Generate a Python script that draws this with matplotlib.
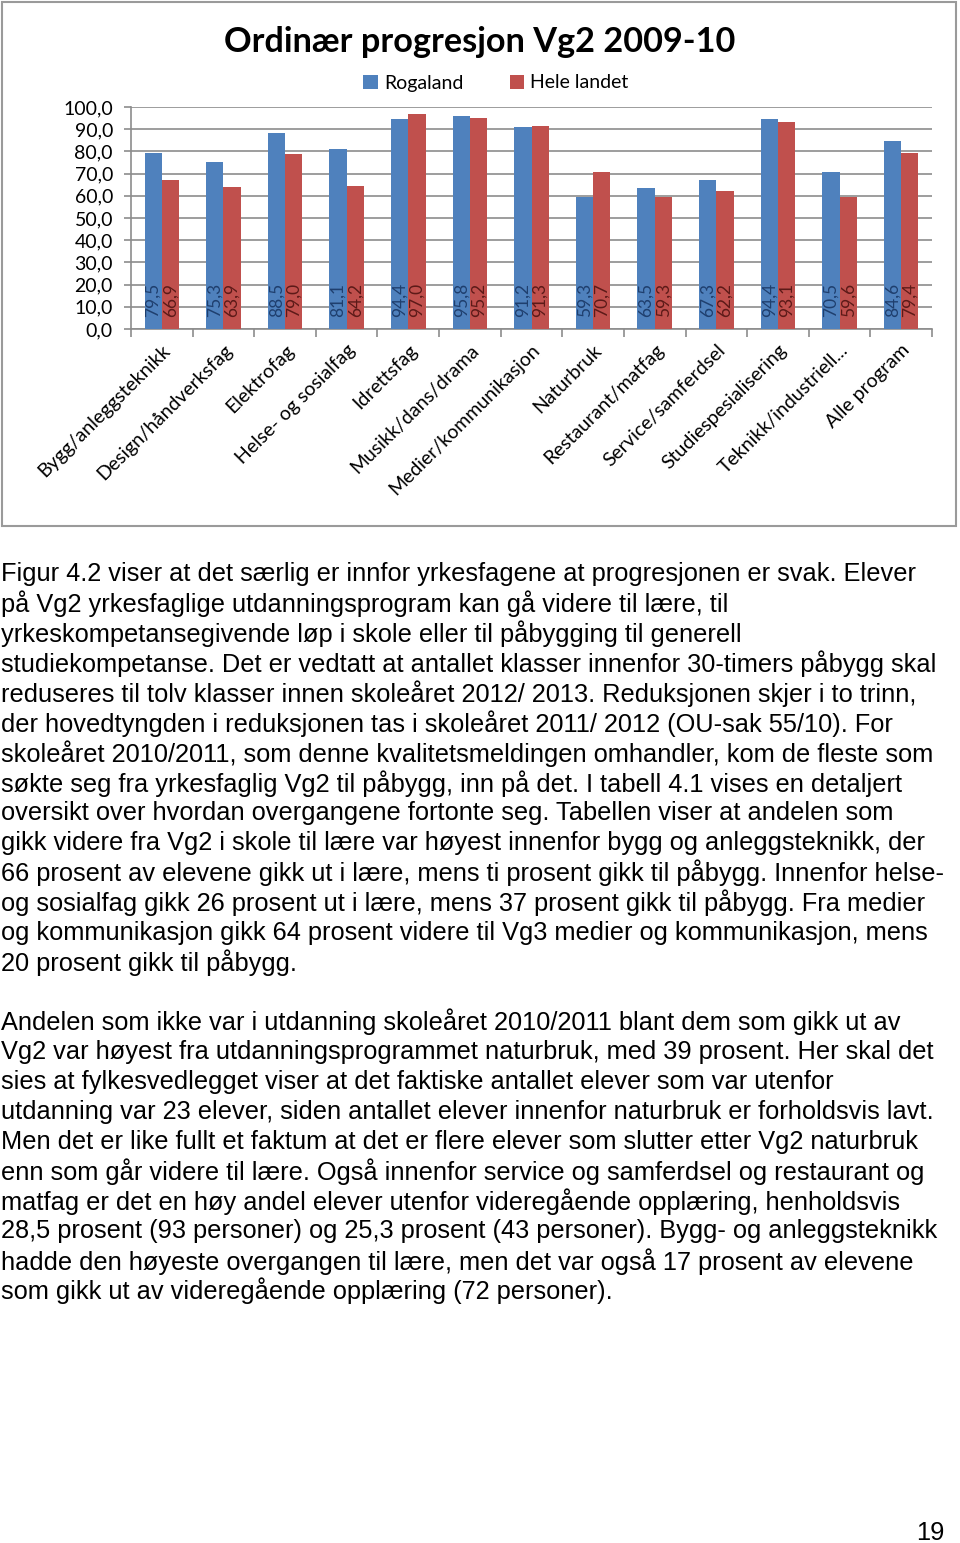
import matplotlib
matplotlib.use("Agg")
import matplotlib.pyplot as plt
import numpy as np
from matplotlib.patches import Rectangle

categories = ["Bygg/anleggsteknikk", "Design/håndverksfag", "Elektrofag",
              "Helse- og sosialfag", "Idrettsfag", "Musikk/dans/drama",
              "Medier/kommunikasjon", "Naturbruk", "Restaurant/matfag",
              "Service/samferdsel", "Studiespesialisering", "Teknikk/industriell...",
              "Alle program"]
rogaland = [79.5, 75.3, 88.5, 81.1, 94.4, 95.8, 91.2, 59.3, 63.5, 67.3, 94.4, 70.5, 84.6]
hele_landet = [66.9, 63.9, 79.0, 64.2, 97.0, 95.2, 91.3, 70.7, 59.3, 62.2, 93.1, 59.6, 79.4]
y_ticks = [0, 10, 20, 30, 40, 50, 60, 70, 80, 90, 100]

paragraph1 = [
    "Figur 4.2 viser at det særlig er innfor yrkesfagene at progresjonen er svak. Elever",
    "på Vg2 yrkesfaglige utdanningsprogram kan gå videre til lære, til",
    "yrkeskompetansegivende løp i skole eller til påbygging til generell",
    "studiekompetanse. Det er vedtatt at antallet klasser innenfor 30-timers påbygg skal",
    "reduseres til tolv klasser innen skoleåret 2012/ 2013. Reduksjonen skjer i to trinn,",
    "der hovedtyngden i reduksjonen tas i skoleåret 2011/ 2012 (OU-sak 55/10). For",
    "skoleåret 2010/2011, som denne kvalitetsmeldingen omhandler, kom de fleste som",
    "søkte seg fra yrkesfaglig Vg2 til påbygg, inn på det. I tabell 4.1 vises en detaljert",
    "oversikt over hvordan overgangene fortonte seg. Tabellen viser at andelen som",
    "gikk videre fra Vg2 i skole til lære var høyest innenfor bygg og anleggsteknikk, der",
    "66 prosent av elevene gikk ut i lære, mens ti prosent gikk til påbygg. Innenfor helse-",
    "og sosialfag gikk 26 prosent ut i lære, mens 37 prosent gikk til påbygg. Fra medier",
    "og kommunikasjon gikk 64 prosent videre til Vg3 medier og kommunikasjon, mens",
    "20 prosent gikk til påbygg.",
]
paragraph2 = [
    "Andelen som ikke var i utdanning skoleåret 2010/2011 blant dem som gikk ut av",
    "Vg2 var høyest fra utdanningsprogrammet naturbruk, med 39 prosent. Her skal det",
    "sies at fylkesvedlegget viser at det faktiske antallet elever som var utenfor",
    "utdanning var 23 elever, siden antallet elever innenfor naturbruk er forholdsvis lavt.",
    "Men det er like fullt et faktum at det er flere elever som slutter etter Vg2 naturbruk",
    "enn som går videre til lære. Også innenfor service og samferdsel og restaurant og",
    "matfag er det en høy andel elever utenfor videregående opplæring, henholdsvis",
    "28,5 prosent (93 personer) og 25,3 prosent (43 personer). Bygg- og anleggsteknikk",
    "hadde den høyeste overgangen til lære, men det var også 17 prosent av elevene",
    "som gikk ut av videregående opplæring (72 personer).",
]

BLUE = "#4F81BD"
RED = "#C0504D"
W, H = 960, 1543

fig = plt.figure(figsize=(9.6, 15.43), dpi=100)
chart_font = ["Lato", "DejaVu Sans"]
body_font = ["Liberation Sans", "DejaVu Sans"]

# chart frame
fig.patches.append(Rectangle((2 / W, 1 - 526 / H), 954 / W, 524 / H, transform=fig.transFigure,
                             fill=False, edgecolor="#9a9a9a", linewidth=1.5))

ax = fig.add_axes([131 / W, 1 - 329 / H, 801 / W, 222 / H])
x = np.arange(len(categories))
bw = 0.28
ax.bar(x - bw / 2, rogaland, bw, color=BLUE, label="Rogaland", zorder=3)
ax.bar(x + bw / 2, hele_landet, bw, color=RED, label="Hele landet", zorder=3)
for i in range(len(categories)):
    ax.text(x[i] - bw / 2, 5.5, f"{rogaland[i]:.1f}".replace(".", ","), rotation=90,
            ha="center", va="bottom", color="#1F3F6E", fontsize=12.5, family=chart_font, zorder=4)
    ax.text(x[i] + bw / 2, 5.5, f"{hele_landet[i]:.1f}".replace(".", ","), rotation=90,
            ha="center", va="bottom", color="#5C1A18", fontsize=12.5, family=chart_font, zorder=4)

ax.set_xlim(-0.5, len(categories) - 0.5)
ax.set_ylim(0, 100)
ax.set_yticks(y_ticks)
ax.set_yticklabels([f"{v:.1f}".replace(".", ",") for v in y_ticks], fontsize=14, family=chart_font)
ax.yaxis.grid(True, color="#8c8c8c", linewidth=1.2, zorder=0)
ax.set_xticks(x)
ax.set_xticklabels(categories, rotation=45, ha="right", rotation_mode="anchor",
                   fontsize=14, family=chart_font)
ax.tick_params(axis="x", length=0, pad=9)
ax.set_xticks(np.arange(len(categories) + 1) - 0.5, minor=True)
ax.tick_params(axis="x", which="minor", length=6, color="#8c8c8c", width=1.2)
ax.tick_params(axis="y", length=5, color="#8c8c8c", width=1.2, pad=8)
for s in ["top", "right"]:
    ax.spines[s].set_visible(False)
for s in ["left", "bottom"]:
    ax.spines[s].set_color("#8c8c8c")
    ax.spines[s].set_linewidth(1.2)

fig.text(480 / W, 1 - 42 / H, "Ordinær progresjon Vg2 2009-10", ha="center", va="center",
         fontsize=24.7, fontweight="bold", family=chart_font)
fig.legend(loc="center", bbox_to_anchor=(496 / W, 1 - 83 / H), ncol=2, frameon=False,
           prop={"family": chart_font, "size": 14}, handlelength=0.75, handleheight=0.75,
           handletextpad=0.3, columnspacing=2.4)

for i, line in enumerate(paragraph1):
    fig.text(1 / W, 1 - (574 + i * 29.9) / H, line, ha="left", va="center",
             fontsize=18.3, family=body_font)
for i, line in enumerate(paragraph2):
    fig.text(1 / W, 1 - (1022 + i * 29.9) / H, line, ha="left", va="center",
             fontsize=18.3, family=body_font)
fig.text(945 / W, 1 - 1533 / H, "19", ha="right", va="center", fontsize=18.3, family=body_font)

fig.savefig("out.png", dpi=100)
